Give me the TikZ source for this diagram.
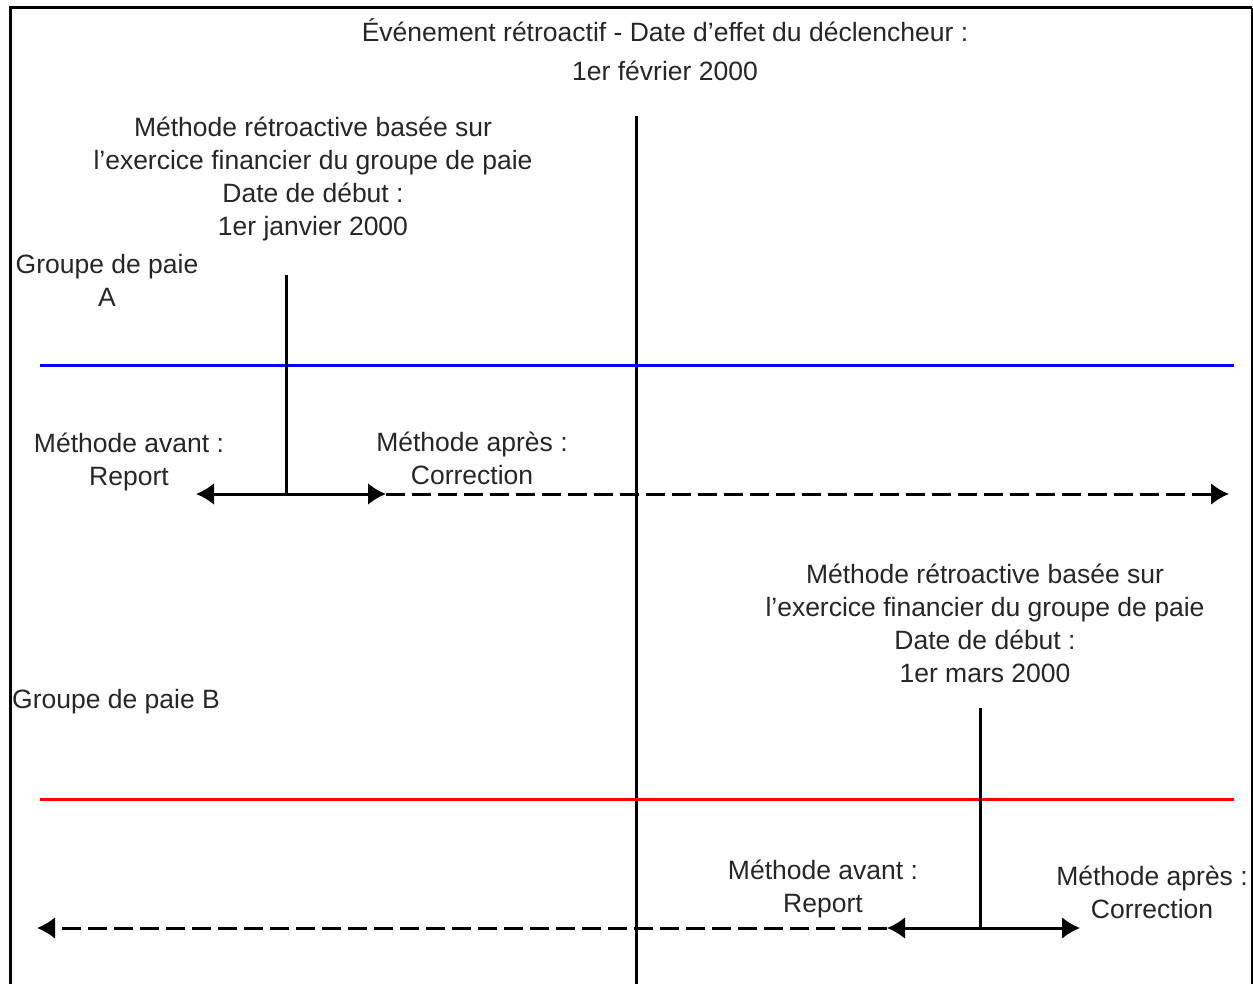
\documentclass[tikz,border=0pt]{standalone}
\usepackage{fontspec}
\setmainfont{Liberation Sans}
\usetikzlibrary{arrows.meta}

\begin{document}
\begin{tikzpicture}[x=1pt, y=-1pt,
    lbl/.style={font=\fontsize{26.5}{33}\selectfont, align=center, inner sep=0pt, text=black!85},
    tickline/.style={line width=3pt},
    arr/.style={line width=3pt, -{Latex[length=18pt,width=22pt]}},
    dasharr/.style={arr, dash pattern=on 19pt off 7pt}]
    \useasboundingbox (0,0) rectangle (1253,984);

    % Frame (open at the bottom)
    \draw[line width=3pt] (10,984) -- (10,8) -- (1252,8);
    \draw[line width=2pt] (1252,8) -- (1252,984);

    % Trigger date
    \node[lbl] (trigger) at (665,50) {Événement rétroactif - Date d’effet du déclencheur :\\[6pt]1er février 2000};
    \coordinate (trigtop) at (636,116);
    \coordinate (trigbot) at (636,984);
    \draw[tickline] (trigtop) -- (trigbot);

    % Pay group A
    \node[lbl] (startA) at (313,179) {Méthode rétroactive basée sur\\l’exercice financier du groupe de paie\\Date de début :\\1er janvier 2000};
    \node[lbl] (groupA) at (107,280) {Groupe de paie\\A};
    \coordinate (lineAw) at (40,365);
    \coordinate (lineAe) at (1234,365);
    \draw[line width=3pt, blue] (lineAw) -- (lineAe);
    \coordinate (tickAtop) at (286,275);
    \coordinate (tickA) at (286,494);
    \draw[tickline] (tickAtop) -- (tickA);
    \node[lbl] (beforeA) at (129,461.5) {Méthode avant :\\Report};
    \node[lbl] (afterA) at (472,458.5) {Méthode après :\\Correction};
    \coordinate (leftA) at (196,494);
    \coordinate (rightA) at (386,494);
    \coordinate (endA) at (1229,494);
    \draw[arr] (tickA) -- (leftA);
    \draw[arr] (tickA) -- (rightA);
    \draw[dasharr] (rightA) -- (endA);

    % Pay group B
    \node[lbl] (startB) at (985,623.5) {Méthode rétroactive basée sur\\l’exercice financier du groupe de paie\\Date de début :\\1er mars 2000};
    \node[lbl] (groupB) at (116,702) {Groupe de paie B};
    \coordinate (lineBw) at (40,799);
    \coordinate (lineBe) at (1234,799);
    \draw[line width=3pt, red] (lineBw) -- (lineBe);
    \coordinate (tickBtop) at (980,708);
    \coordinate (tickB) at (980,928);
    \draw[tickline] (tickBtop) -- (tickB);
    \node[lbl] (beforeB) at (823,888.5) {Méthode avant :\\Report};
    \node[lbl] (afterB) at (1152,892) {Méthode après :\\Correction};
    \coordinate (leftB) at (887,928);
    \coordinate (rightB) at (1080,928);
    \coordinate (endB) at (37,928);
    \draw[arr] (tickB) -- (leftB);
    \draw[arr] (tickB) -- (rightB);
    \draw[dasharr] (leftB) -- (endB);
\end{tikzpicture}
\end{document}
